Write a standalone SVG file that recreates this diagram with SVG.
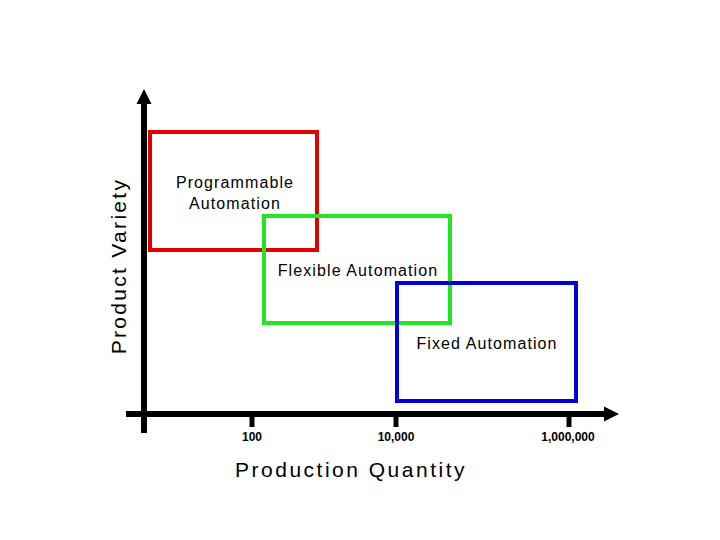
<svg xmlns="http://www.w3.org/2000/svg" width="720" height="540" viewBox="0 0 720 540">
<style>
.lbl{font-family:"Liberation Sans",Arial,sans-serif;fill:#000;text-anchor:middle}
.in{font-size:16px;letter-spacing:1.1px}
.ax{font-size:21px;letter-spacing:2.5px}
.box{fill:none;stroke-width:4}
.tick{font-family:"Liberation Sans",Arial,sans-serif;font-size:12px;font-weight:bold;text-anchor:middle}
</style>
<rect width="720" height="540" fill="#fff"/>
<g id="connectors">
<line x1="144" y1="433" x2="144" y2="100" stroke="#000" stroke-width="6"/>
<polygon points="144,89 136.5,104 151.5,104" fill="#000"/>
<line x1="126" y1="414" x2="608" y2="414" stroke="#000" stroke-width="6"/>
<polygon points="619,414 604,406.5 604,421.5" fill="#000"/>
<line x1="252" y1="414" x2="252" y2="427" stroke="#000" stroke-width="5"/>
<line x1="396" y1="414" x2="396" y2="427" stroke="#000" stroke-width="5"/>
<line x1="569" y1="414" x2="569" y2="427" stroke="#000" stroke-width="5"/>
</g>
<g id="programmable">
<rect class="box" x="150" y="132" width="167" height="118" stroke="#e00000"/>
<text class="lbl in" x="235" y="188">Programmable</text>
<text class="lbl in" x="235" y="209">Automation</text>
</g>
<g id="flexible">
<rect class="box" x="264" y="216" width="186" height="107" stroke="#22e622"/>
<text class="lbl in" x="358" y="276">Flexible Automation</text>
</g>
<g id="fixed">
<rect class="box" x="397" y="283" width="179" height="118" stroke="#0000d8"/>
<text class="lbl in" x="487" y="349">Fixed Automation</text>
</g>
<g id="labels">
<text class="tick" x="252" y="441">100</text>
<text class="tick" x="396" y="441">10,000</text>
<text class="tick" x="568" y="441">1,000,000</text>
<text class="lbl ax" x="351" y="477">Production Quantity</text>
<text class="lbl ax" x="0" y="0" transform="translate(126,266) rotate(-90)" style="letter-spacing:2.3px">Product Variety</text>
</g>
</svg>
